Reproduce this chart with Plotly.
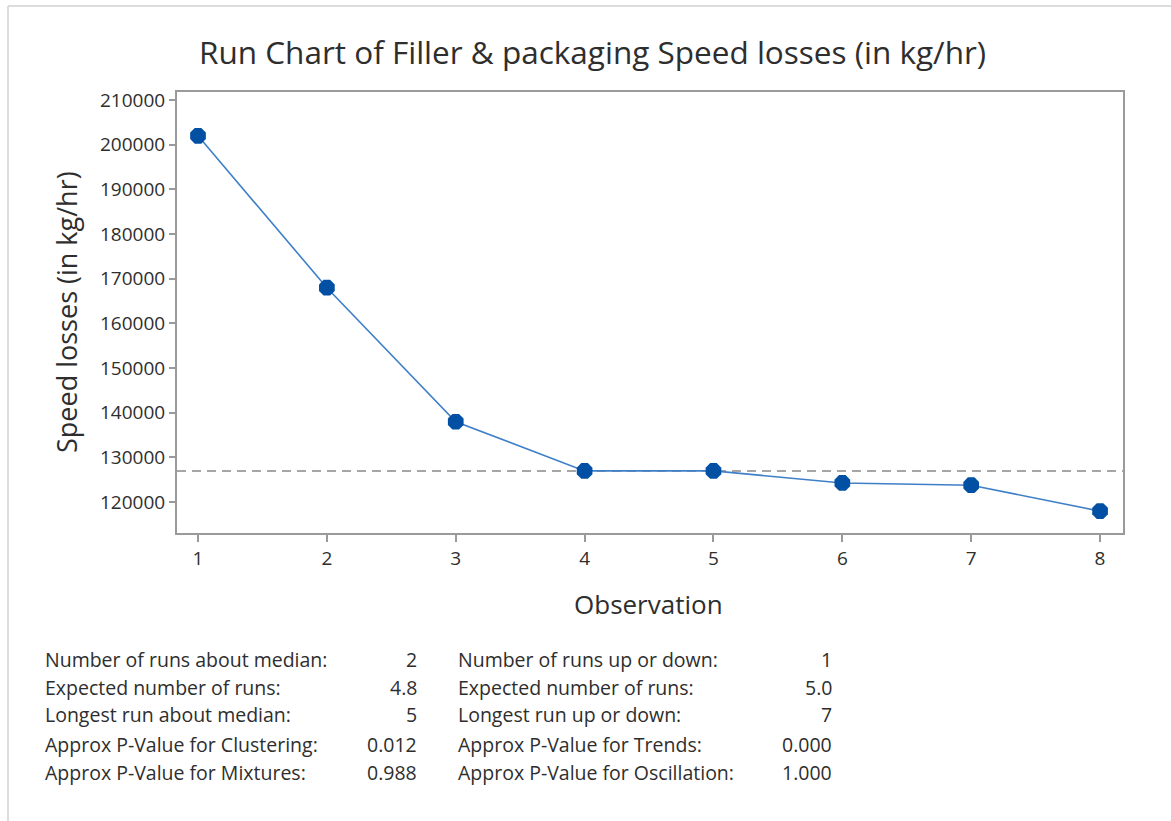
import plotly.graph_objects as go

observation = [1, 2, 3, 4, 5, 6, 7, 8]
speed_losses = [202000, 168000, 138000, 127000, 127000, 124300, 123800, 118000]
median_value = 127000
x_ticks = [1, 2, 3, 4, 5, 6, 7, 8]
y_ticks = [120000, 130000, 140000, 150000, 160000, 170000, 180000, 190000, 200000, 210000]

stats_left_labels = ["Number of runs about median:", "Expected number of runs:", "Longest run about median:",
                     "Approx P-Value for Clustering:", "Approx P-Value for Mixtures:"]
stats_left_values = ["2", "4.8", "5", "0.012", "0.988"]
stats_right_labels = ["Number of runs up or down:", "Expected number of runs:", "Longest run up or down:",
                      "Approx P-Value for Trends:", "Approx P-Value for Oscillation:"]
stats_right_values = ["1", "5.0", "7", "0.000", "1.000"]

W, H = 1171, 821
L, R, T, B = 177, 48, 92, 288
PW, PH = W - L - R, H - T - B

def px_x(px):
    return (px - L) / PW

def px_y(py):
    return (H - B - py) / PH

FONT = "Open Sans"
TXT = "#2E2E2E"

fig = go.Figure()
fig.add_trace(go.Scatter(
    x=observation, y=speed_losses, mode="lines+markers",
    line=dict(color="#3E7FC8", width=1.6),
    marker=dict(symbol="octagon", size=17, color="#0150A3", line=dict(width=0)),
    showlegend=False, hoverinfo="x+y"))

fig.add_shape(type="line", xref="paper", yref="y", x0=0, x1=1, y0=median_value, y1=median_value,
              line=dict(color="#A6A6A6", width=2, dash="9px,6px"), layer="below")

# outer image frame (top and left)
fig.add_shape(type="line", xref="paper", yref="paper", x0=px_x(8), x1=px_x(W + 5), y0=px_y(6), y1=px_y(6),
              line=dict(color="#DCDCDC", width=2))
fig.add_shape(type="line", xref="paper", yref="paper", x0=px_x(8), x1=px_x(8), y0=px_y(6), y1=px_y(H + 5),
              line=dict(color="#DCDCDC", width=2))

ann = []
ann.append(dict(text="Run Chart of Filler & packaging Speed losses (in kg/hr)", xref="paper", yref="paper",
                x=px_x(592), y=px_y(52), xanchor="center", yanchor="middle", showarrow=False,
                font=dict(family=FONT, size=31.5, color=TXT)))
ann.append(dict(text="Observation", xref="paper", yref="paper", x=px_x(648), y=px_y(604),
                xanchor="center", yanchor="middle", showarrow=False,
                font=dict(family=FONT, size=26, color=TXT)))
ann.append(dict(text="Speed losses (in kg/hr)", xref="paper", yref="paper", x=px_x(66), y=px_y(312),
                xanchor="center", yanchor="middle", showarrow=False, textangle=-90,
                font=dict(family=FONT, size=27, color=TXT)))

row_y = [659, 687, 715, 744, 772]
SF = 19.5
for i in range(5):
    ann.append(dict(text=stats_left_labels[i], xref="paper", yref="paper", x=px_x(43), y=px_y(row_y[i]),
                    xanchor="left", yanchor="middle", showarrow=False, font=dict(family=FONT, size=SF, color=TXT)))
    ann.append(dict(text=stats_left_values[i], xref="paper", yref="paper", x=px_x(419), y=px_y(row_y[i]),
                    xanchor="right", yanchor="middle", showarrow=False, font=dict(family=FONT, size=SF, color=TXT)))
    ann.append(dict(text=stats_right_labels[i], xref="paper", yref="paper", x=px_x(456), y=px_y(row_y[i]),
                    xanchor="left", yanchor="middle", showarrow=False, font=dict(family=FONT, size=SF, color=TXT)))
    ann.append(dict(text=stats_right_values[i], xref="paper", yref="paper", x=px_x(834), y=px_y(row_y[i]),
                    xanchor="right", yanchor="middle", showarrow=False, font=dict(family=FONT, size=SF, color=TXT)))

fig.update_layout(
    width=W, height=H, margin=dict(l=L, r=R, t=T, b=B),
    paper_bgcolor="white", plot_bgcolor="white",
    annotations=ann,
    xaxis=dict(range=[0.837, 8.178], tickvals=x_ticks, ticktext=[str(v) for v in x_ticks],
               showgrid=False, zeroline=False, showline=True, mirror=True, linecolor="#9A9A9A", linewidth=2,
               ticks="outside", ticklen=7, tickwidth=1.5, tickcolor="#9A9A9A",
               tickfont=dict(family=FONT, size=19, color=TXT)),
    yaxis=dict(range=[113100, 211800], tickvals=y_ticks, ticktext=[str(v) for v in y_ticks],
               showgrid=False, zeroline=False, showline=True, mirror=True, linecolor="#9A9A9A", linewidth=2,
               ticks="outside", ticklen=6, tickwidth=1.5, tickcolor="#9A9A9A",
               tickfont=dict(family=FONT, size=19, color=TXT)),
)

fig.write_html("out.html")
